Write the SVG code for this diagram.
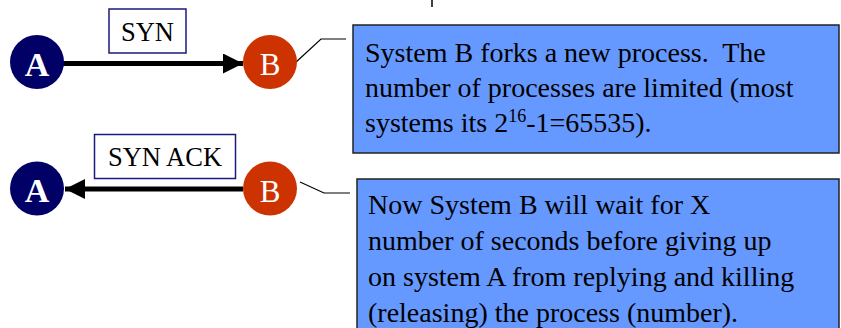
<svg xmlns="http://www.w3.org/2000/svg" width="841" height="328" viewBox="0 0 841 328">
<style>
  .t { font-family: "Liberation Serif", "Times New Roman", serif; fill: #000; }
  .body { font-size: 28px; white-space: pre; }
  .lbl { font-size: 26.5px; text-anchor: middle; }
  .node { font-family: "Liberation Serif", "Times New Roman", serif; fill: #fff; text-anchor: middle; }
  .na { font-size: 34px; font-weight: bold; }
  .nb { font-size: 31px; }
  .a { fill: #000066; }
  .b { fill: #CC3300; }
  .lblbox { fill: #fff; stroke: #1a1a80; stroke-width: 1.5; }
  .note { fill: #6699FF; stroke: #222; stroke-width: 1.5; }
  .arrow { stroke: #000; stroke-width: 5; fill: none; }
  .callout { stroke: #000; stroke-width: 1.2; fill: none; }
</style>
<defs>
  <marker id="head" markerWidth="4" markerHeight="4" refX="4" refY="2" orient="auto" markerUnits="strokeWidth">
    <path d="M0,0 L4,2 L0,4 Z" fill="#000"/>
  </marker>
</defs>
<line x1="432" y1="0" x2="432" y2="7" stroke="#000" stroke-width="1.5"/>
<g id="connectors">
  <line class="arrow" x1="63" y1="63.5" x2="243" y2="63.5" marker-end="url(#head)"/>
  <line class="arrow" x1="243" y1="189" x2="65" y2="189" marker-end="url(#head)"/>
  <polyline class="callout" points="295,63 321,39 346,39"/>
  <polyline class="callout" points="300,182 324,193 350,193"/>
</g>
<g id="label-syn">
  <rect class="lblbox" x="109" y="9" width="77" height="44"/>
  <text class="t lbl" x="147.5" y="41">SYN</text>
</g>
<g id="label-synack">
  <rect class="lblbox" x="94.5" y="134.5" width="141" height="44"/>
  <text class="t lbl" x="165" y="166">SYN ACK</text>
</g>
<g id="nodeA1">
  <circle class="a" cx="37" cy="62" r="27"/>
  <text class="node na" x="37" y="75.5">A</text>
</g>
<g id="nodeB1">
  <circle class="b" cx="270" cy="62" r="27"/>
  <text class="node nb" x="270" y="75">B</text>
</g>
<g id="nodeA2">
  <circle class="a" cx="37" cy="188.5" r="27"/>
  <text class="node na" x="37" y="202">A</text>
</g>
<g id="nodeB2">
  <circle class="b" cx="270" cy="188.5" r="27"/>
  <text class="node nb" x="270" y="201.5">B</text>
</g>
<g id="note1">
  <rect class="note" x="353" y="25" width="486" height="128"/>
  <text class="t body" x="365" y="62">System B forks a new process.  The</text>
  <text class="t body" x="365" y="97">number of processes are limited (most</text>
  <text class="t body" x="365" y="132">systems its 2<tspan font-size="18" dy="-10">16</tspan><tspan dy="10">-1=65535).</tspan></text>
</g>
<g id="note2">
  <rect class="note" x="357" y="179" width="482" height="155"/>
  <text class="t body" x="368" y="214">Now System B will wait for X</text>
  <text class="t body" x="368" y="250">number of seconds before giving up</text>
  <text class="t body" x="368" y="286">on system A from replying and killing</text>
  <text class="t body" x="368" y="322">(releasing) the process (number).</text>
</g>
</svg>
